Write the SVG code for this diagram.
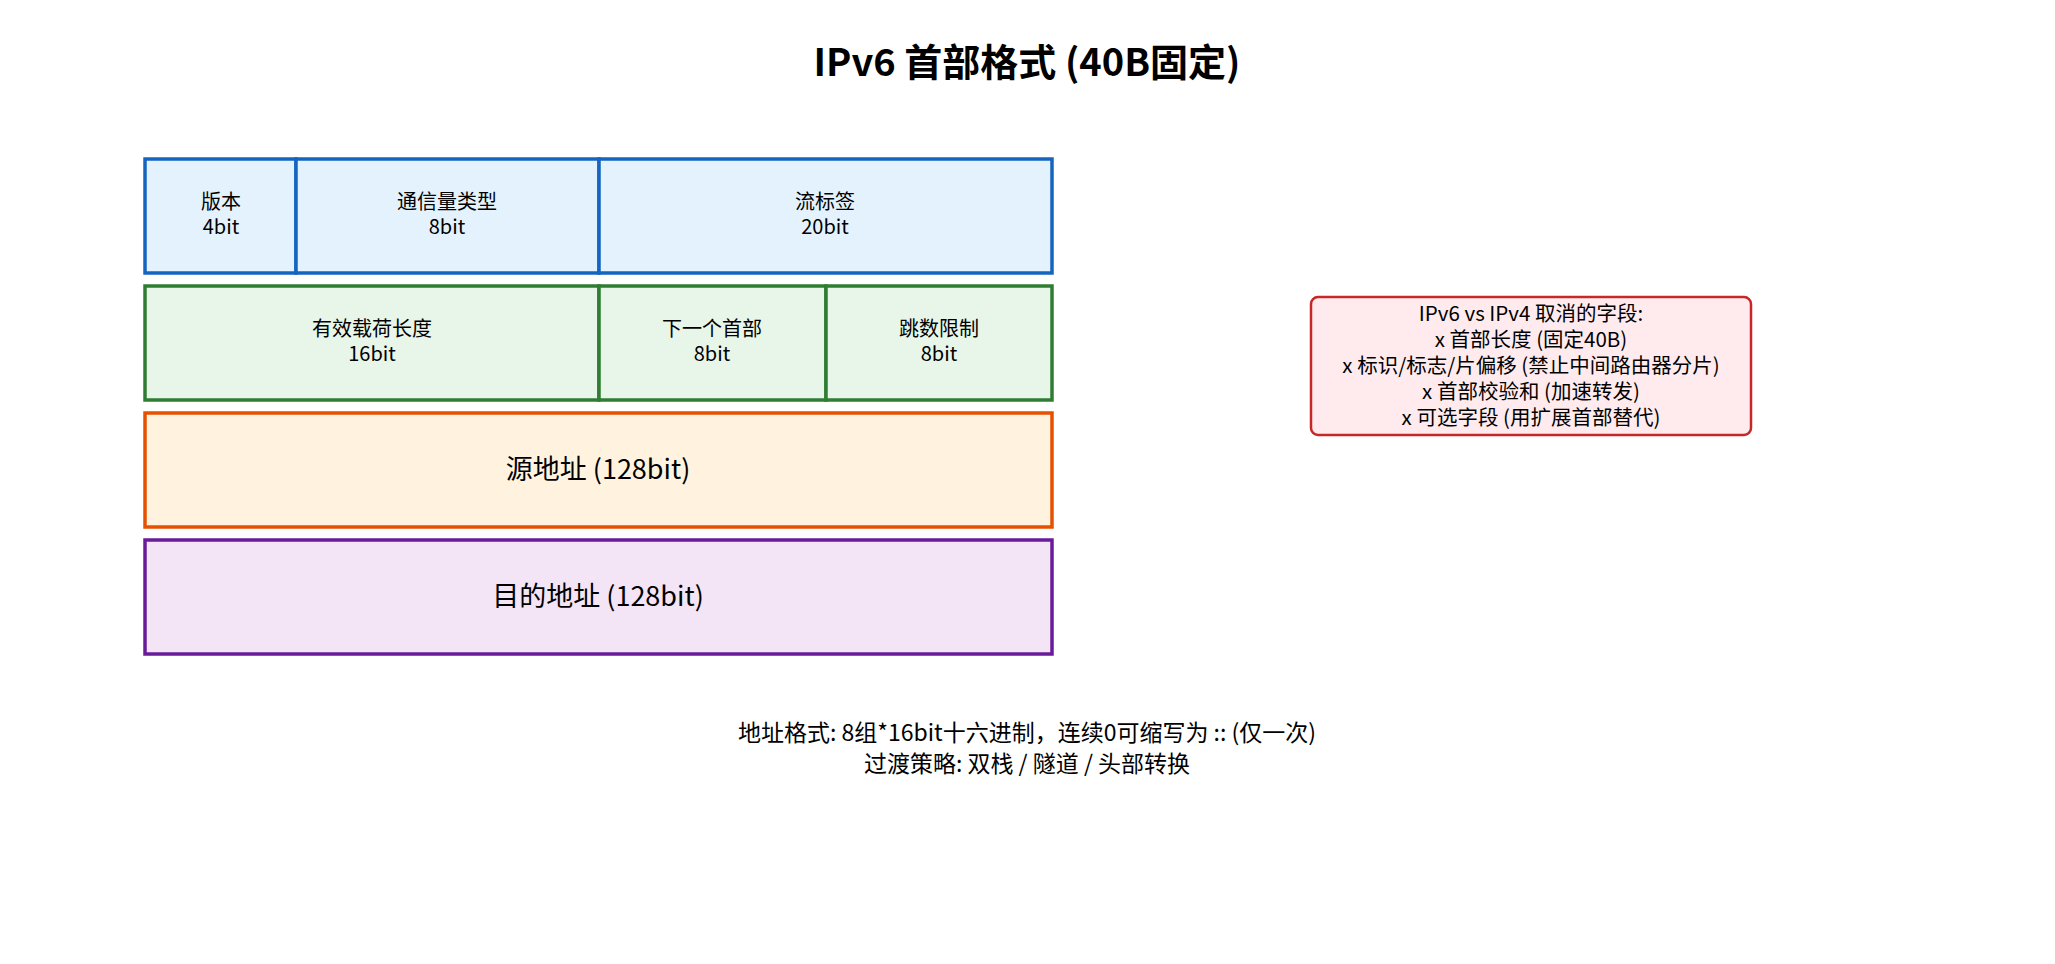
<svg xmlns="http://www.w3.org/2000/svg" width="2055" height="964" viewBox="0 0 2055 964">
<style>
text{font-family:"Noto Sans CJK SC","Liberation Sans",sans-serif;fill:#000;text-anchor:middle}
.s{font-size:20px}.m{font-size:27px}.n{font-size:20.5px}.b{font-size:23px}
.blue{fill:#E3F2FD;stroke:#1565C0;stroke-width:3.5}
.green{fill:#E8F5E9;stroke:#2E7D32;stroke-width:3.5}
.orange{fill:#FFF3E0;stroke:#E65100;stroke-width:3.5}
.purple{fill:#F3E5F5;stroke:#6A1B9A;stroke-width:3.5}
</style>
<rect width="2055" height="964" fill="#fff"/>
<text x="1027" y="76" style="font-size:38px;font-weight:bold">IPv6 首部格式 (40B固定)</text>
<g id="version"><rect class="blue" x="145" y="159" width="151" height="114"/><text class="s" x="221" y="209">版本</text><text class="s" x="221" y="234">4bit</text></g>
<g id="traffic"><rect class="blue" x="296" y="159" width="303" height="114"/><text class="s" x="447" y="209">通信量类型</text><text class="s" x="447" y="234">8bit</text></g>
<g id="flow"><rect class="blue" x="599" y="159" width="453" height="114"/><text class="s" x="825" y="209">流标签</text><text class="s" x="825" y="234">20bit</text></g>
<g id="payload"><rect class="green" x="145" y="286" width="454" height="114"/><text class="s" x="372" y="336">有效载荷长度</text><text class="s" x="372" y="361">16bit</text></g>
<g id="next"><rect class="green" x="599" y="286" width="227" height="114"/><text class="s" x="712" y="336">下一个首部</text><text class="s" x="712" y="361">8bit</text></g>
<g id="hop"><rect class="green" x="826" y="286" width="226" height="114"/><text class="s" x="939" y="336">跳数限制</text><text class="s" x="939" y="361">8bit</text></g>
<g id="src"><rect class="orange" x="145" y="413" width="907" height="114"/><text class="m" x="598" y="479">源地址 (128bit)</text></g>
<g id="dst"><rect class="purple" x="145" y="540" width="907" height="114"/><text class="m" x="598" y="606">目的地址 (128bit)</text></g>
<g id="removed"><rect x="1311" y="297" width="440" height="138" rx="7" fill="#FFEBEE" stroke="#C62828" stroke-width="2.5"/>
<text class="n" x="1531" y="321">IPv6 vs IPv4 取消的字段:</text>
<text class="n" x="1531" y="347">x 首部长度 (固定40B)</text>
<text class="n" x="1531" y="373">x 标识/标志/片偏移 (禁止中间路由器分片)</text>
<text class="n" x="1531" y="399">x 首部校验和 (加速转发)</text>
<text class="n" x="1531" y="425">x 可选字段 (用扩展首部替代)</text></g>
<g id="notes"><text class="b" x="1027" y="741">地址格式: 8组*16bit十六进制，连续0可缩写为 :: (仅一次)</text>
<text class="b" x="1027" y="772">过渡策略: 双栈 / 隧道 / 头部转换</text></g>
<g id="connectors"/>
</svg>
